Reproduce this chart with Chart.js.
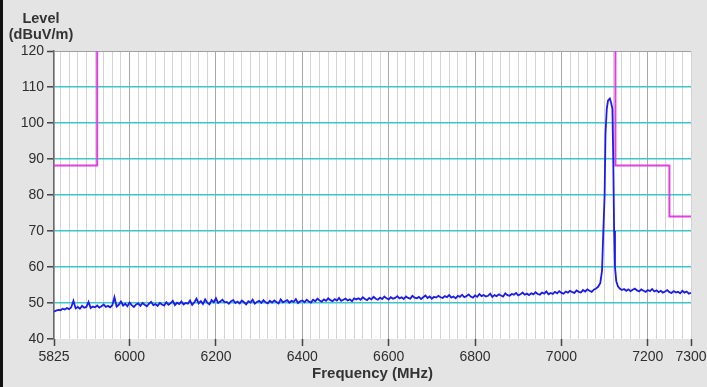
<!DOCTYPE html>
<html><head><meta charset="utf-8">
<script src="https://cdn.jsdelivr.net/npm/chart.js@4"></script>
<style>
html,body{margin:0;padding:0;background:#e4e4e4;}
#wrap{position:relative;width:707px;height:387px;overflow:hidden;background:#e4e4e4;}
canvas{position:absolute;left:0;top:0;}
#edge{position:absolute;left:0;top:0;width:3px;height:387px;background:#111;}
#ytitle{position:absolute;left:4px;top:10px;width:74px;text-align:center;font:bold 14.5px "Liberation Sans",Arial,sans-serif;line-height:16px;color:#333;}
</style></head>
<body><div id="wrap"><canvas id="c" width="707" height="387"></canvas><div id="edge"></div><div id="ytitle">Level<br>(dBuV/m)</div></div>
<script>
// Measured trace: frequency (MHz) and level (dBuV/m)
const frequencies = [
5825,5830,5835,5840,5845,5850,5855,5860,5865,5870,5875,5880,5885,5890,5895,5900,5905,5910,5915,5920,
5925,5930,5935,5940,5945,5950,5955,5960,5965,5970,5975,5980,5985,5990,5995,6000,6005,6010,6015,6020,
6025,6030,6035,6040,6045,6050,6055,6060,6065,6070,6075,6080,6085,6090,6095,6100,6105,6110,6115,6120,
6125,6130,6135,6140,6145,6150,6155,6160,6165,6170,6175,6180,6185,6190,6195,6200,6205,6210,6215,6220,
6225,6230,6235,6240,6245,6250,6255,6260,6265,6270,6275,6280,6285,6290,6295,6300,6305,6310,6315,6320,
6325,6330,6335,6340,6345,6350,6355,6360,6365,6370,6375,6380,6385,6390,6395,6400,6405,6410,6415,6420,
6425,6430,6435,6440,6445,6450,6455,6460,6465,6470,6475,6480,6485,6490,6495,6500,6505,6510,6515,6520,
6525,6530,6535,6540,6545,6550,6555,6560,6565,6570,6575,6580,6585,6590,6595,6600,6605,6610,6615,6620,
6625,6630,6635,6640,6645,6650,6655,6660,6665,6670,6675,6680,6685,6690,6695,6700,6705,6710,6715,6720,
6725,6730,6735,6740,6745,6750,6755,6760,6765,6770,6775,6780,6785,6790,6795,6800,6805,6810,6815,6820,
6825,6830,6835,6840,6845,6850,6855,6860,6865,6870,6875,6880,6885,6890,6895,6900,6905,6910,6915,6920,
6925,6930,6935,6940,6945,6950,6955,6960,6965,6970,6975,6980,6985,6990,6995,7000,7005,7010,7015,7020,
7025,7030,7035,7040,7045,7050,7055,7060,7065,7070,7075,7080,
7085,7090,7094,7097,7100,7102,7105,7108,7112,7115,7118,7120,7122,7124,7127,7131,
7135,7140,7145,7150,7155,7160,7165,7170,7175,7180,7185,7190,7195,7200,7205,7210,7215,7220,
7225,7230,7235,7240,7245,7250,7255,7260,7265,7270,7275,7280,7285,7290,7295,7300
];
const levels = [
47.6,47.9,48.1,48.0,48.4,48.2,48.6,48.3,48.8,50.6,48.5,48.9,48.4,49.2,48.7,48.9,50.3,48.6,49.0,48.8,
49.3,48.7,49.1,49.6,48.9,49.2,48.8,49.4,51.6,49.0,49.5,50.4,49.3,49.8,49.1,50.1,49.4,48.9,49.6,49.9,
49.2,50.0,49.5,49.1,49.8,50.3,49.4,49.7,49.2,50.0,49.6,49.3,50.2,49.5,49.9,50.6,49.4,50.1,49.7,50.4,
49.6,50.0,49.8,50.7,49.5,50.2,51.2,49.9,50.5,49.7,51.0,50.1,49.6,50.8,50.2,51.3,50.0,50.4,50.9,50.2,
50.3,49.8,50.5,50.8,50.0,50.4,49.9,50.7,50.2,49.6,50.5,50.1,50.9,49.8,50.3,50.6,50.0,50.8,50.2,49.9,
50.6,50.1,50.7,50.3,49.9,51.0,50.2,50.5,50.8,50.1,50.6,50.3,51.1,50.0,50.5,50.7,50.2,50.9,50.4,50.1,
50.9,50.5,51.2,50.7,50.4,51.0,50.6,51.3,50.8,50.5,51.1,50.7,51.4,50.6,50.9,51.2,50.7,51.0,50.5,51.3,
51.0,51.3,50.9,51.6,51.1,50.8,51.4,51.0,51.7,51.2,50.9,51.5,51.1,51.8,51.3,51.0,51.6,51.2,51.4,51.9,
51.3,51.6,51.1,51.8,51.4,51.2,52.0,51.5,51.3,51.7,51.1,51.6,52.1,51.4,51.8,51.2,51.7,51.5,52.0,51.6,
51.4,51.9,51.6,52.2,51.5,51.8,51.3,52.0,51.7,52.3,51.6,51.9,52.4,51.8,51.5,52.1,51.7,52.5,51.9,52.2,
51.8,52.0,52.6,51.7,52.2,51.9,52.4,52.1,51.8,52.7,52.2,52.0,52.5,52.3,52.8,52.1,52.4,52.9,52.3,52.6,
52.2,52.7,52.4,53.0,52.5,52.3,52.9,52.6,53.2,52.4,52.8,52.5,53.1,52.7,53.3,52.8,52.6,53.2,52.9,53.4,
53.0,52.8,53.5,53.1,52.9,53.6,53.2,53.8,53.4,53.1,53.7,54.0,
54.5,55.6,59.0,70.0,80.0,97.0,104.0,106.3,106.8,105.6,104.0,90.0,70.0,60.0,56.0,54.6,
54.0,53.6,53.9,53.4,53.8,53.3,53.7,54.0,53.5,53.2,53.8,53.4,53.1,53.6,53.3,53.9,53.2,53.5,
53.0,53.4,52.9,53.2,53.6,53.0,52.8,53.3,52.9,53.1,52.7,53.4,52.9,53.2,52.6,52.8
];
// Limit line (two segments)
const limitLowFreqs = [5825, 5925, 5925];
const limitLowLevels = [88.2, 88.2, 120];
const limitHighFreqs = [7125, 7125, 7250, 7250, 7300];
const limitHighLevels = [120, 88.2, 88.2, 74, 74];
// Axis ticks
const xTickLabels = [5825, 6000, 6200, 6400, 6600, 6800, 7000, 7200, 7300];
const yTickValues = [40, 50, 60, 70, 80, 90, 100, 110, 120];
const xMin = 5825, xMax = 7300, xGridStep = 20;

const pts = (xs, ys) => xs.map((x, i) => ({x: x, y: ys[i]}));

const plotBg = {
  id: 'plotBg',
  beforeDraw(chart) {
    const {ctx, chartArea: a} = chart;
    ctx.save();
    ctx.fillStyle = '#ffffff';
    ctx.fillRect(a.left, a.top, a.right - a.left, a.bottom - a.top);
    ctx.restore();
  }
};

const FONT = '"Liberation Sans", Arial, sans-serif';
const majorX = v => xTickLabels.includes(v);

new Chart(document.getElementById('c'), {
  type: 'line',
  data: {
    datasets: [
      {data: pts(frequencies, levels), borderColor: '#1c1ce8', borderWidth: 1.8, pointRadius: 0, tension: 0},
      {data: pts(limitLowFreqs, limitLowLevels), borderColor: '#e040e0', borderWidth: 2, pointRadius: 0, tension: 0},
      {data: pts(limitHighFreqs, limitHighLevels), borderColor: '#e040e0', borderWidth: 2, pointRadius: 0, tension: 0}
    ]
  },
  options: {
    responsive: false,
    animation: false,
    events: [],
    layout: {padding: {top: 51, right: 16, left: 0, bottom: 0}},
    plugins: {legend: {display: false}, tooltip: {enabled: false}},
    scales: {
      x: {
        type: 'linear', min: xMin, max: xMax,
        afterBuildTicks(scale) {
          const t = [{value: xMin}];
          for (let v = Math.ceil(xMin / xGridStep) * xGridStep; v <= xMax; v += xGridStep) t.push({value: v});
          scale.ticks = t;
        },
        afterFit(scale) { scale.height = 48; scale.paddingLeft = 0; scale.paddingRight = 0; },
        ticks: {
          autoSkip: false, maxRotation: 0, minRotation: 0, padding: 3,
          color: '#2e2e2e', font: {family: FONT, size: 14},
          callback: v => majorX(v) ? String(v) : ''
        },
        grid: {
          color: c => (c.tick && majorX(c.tick.value) && c.tick.value !== xMin && c.tick.value !== xMax) ? '#a9a9a9' : '#d3d3d3',
          lineWidth: 1,
          tickColor: c => (c.tick && majorX(c.tick.value)) ? '#444' : 'rgba(0,0,0,0)',
          tickLength: 7, tickWidth: 1.5
        },
        border: {display: false},
        title: {display: true, text: 'Frequency (MHz)', color: '#333', font: {family: FONT, size: 15, weight: 'bold'}, padding: {top: 4, bottom: 4}}
      },
      y: {
        type: 'linear', min: 40, max: 120,
        afterBuildTicks(scale) { scale.ticks = yTickValues.map(v => ({value: v})); },
        afterFit(scale) { scale.width = 54; },
        ticks: {padding: 3, color: '#2e2e2e', font: {family: FONT, size: 14}},
        grid: {
          color: c => c.tick.value === 120 ? '#a0a0a0' : (c.tick.value === 40 ? 'rgba(0,0,0,0)' : '#3fc5c9'),
          lineWidth: c => c.tick.value === 120 ? 1 : 1.6,
          tickColor: '#444', tickLength: 7, tickWidth: 1.5
        },
        border: {display: true, color: '#6a6a6a', width: 1.5}
      }
    }
  },
  plugins: [plotBg]
});
</script>
</body></html>
